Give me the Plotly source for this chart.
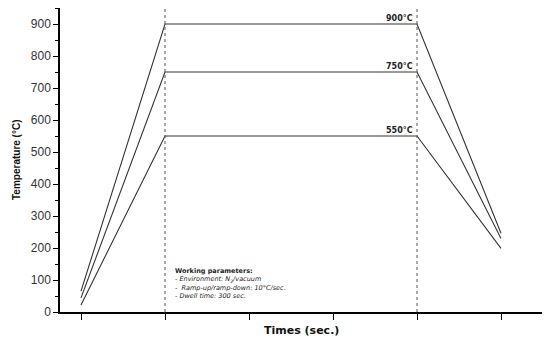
import plotly.graph_objects as go

# Data
times = [0, 1, 4, 5]
series_900 = [65, 900, 900, 246]
series_750 = [44, 750, 750, 230]
series_550 = [22, 550, 550, 199]
labels = ["900°C", "750°C", "550°C"]
dwell_marks = [1, 4]
y_ticks = [0, 100, 200, 300, 400, 500, 600, 700, 800, 900]
x_ticks = [0, 1, 2, 3, 4, 5]

fig = go.Figure()
for vals in [series_900, series_750, series_550]:
    fig.add_trace(go.Scatter(x=times, y=vals, mode="lines",
                             line=dict(color="#333333", width=1.1),
                             showlegend=False, hoverinfo="skip"))

for xm in dwell_marks:
    fig.add_trace(go.Scatter(x=[xm, xm], y=[0, 950], mode="lines",
                             line=dict(color="#555555", width=1, dash="3px,3px"),
                             showlegend=False, hoverinfo="skip"))

for lab, vals in zip(labels, [series_900, series_750, series_550]):
    fig.add_annotation(x=4, y=vals[2], text="<b>" + lab + "</b>", showarrow=False,
                       xanchor="right", yanchor="bottom", xshift=-2, yshift=-1,
                       font=dict(family="DejaVu Sans", size=8, color="#222222"))

note = ("<b>Working parameters:</b><br>"
        "<i>- Environment: N<sub>2</sub>/vacuum</i><br>"
        "<i>-  Ramp-up/ramp-down: 10°C/sec.</i><br>"
        "<i>- Dwell time: 300 sec.</i>")
fig.add_annotation(x=1.1, y=148, text=note, showarrow=False, xanchor="left", yanchor="top",
                   align="left", font=dict(family="DejaVu Sans", size=6.5, color="#222222"))

fig.add_annotation(xref="paper", yref="paper", x=0.5, y=0, yshift=-18, xshift=0,
                   text="<b>Times (sec.)</b>", showarrow=False, xanchor="center", yanchor="middle",
                   font=dict(family="DejaVu Sans", size=11, color="#111111"))
fig.add_annotation(xref="paper", yref="paper", x=0, y=0.5, xshift=-44,
                   text="<b>Temperature (°C)</b>", showarrow=False, textangle=-90,
                   xanchor="center", yanchor="middle",
                   font=dict(family="Liberation Sans Narrow, Liberation Sans", size=10, color="#111111"))

fig.update_layout(
    width=550, height=342,
    margin=dict(l=52, r=15, t=0, b=38, autoexpand=False),
    plot_bgcolor="white", paper_bgcolor="white",
)
fig.update_xaxes(range=[-0.25, 5.5], tickvals=x_ticks, showticklabels=False,
                 showgrid=False, zeroline=False, showline=True, linecolor="black", linewidth=1.5,
                 ticks="outside", ticklen=6, tickwidth=1.3, tickcolor="black", automargin=False)
fig.update_yaxes(range=[0, 950], tickvals=y_ticks,
                 showgrid=False, zeroline=False, showline=True, linecolor="black", linewidth=1.5,
                 ticks="outside", ticklen=5, tickwidth=1.3, tickcolor="black", automargin=False,
                 minor=dict(dtick=50, ticks="outside", ticklen=3, tickcolor="black", tickwidth=1),
                 tickfont=dict(family="Liberation Sans", size=12, color="#333333"))

fig.write_html("out.html")
